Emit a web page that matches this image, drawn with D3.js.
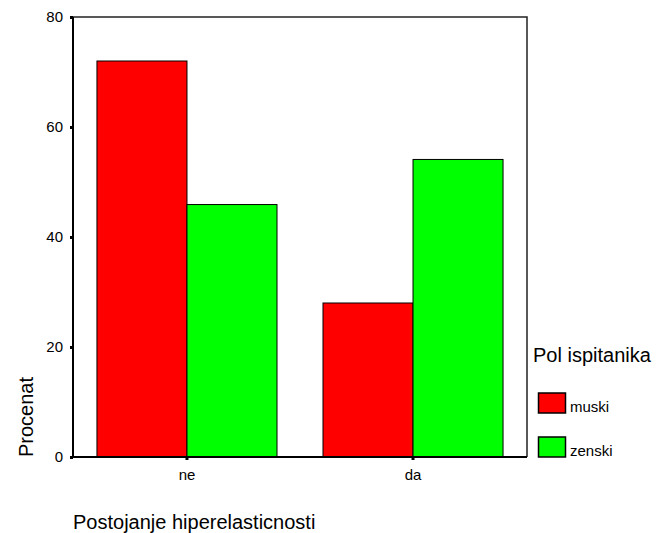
<!DOCTYPE html>
<html><head><meta charset="utf-8">
<script src="https://cdn.jsdelivr.net/npm/d3@7"></script>
<style>body{margin:0;background:#fff}svg{display:block;font-family:Arial,"Liberation Sans",Helvetica,sans-serif}</style>
</head><body>
<svg id="c" width="657" height="533"></svg>
<script>
const categories = ["ne", "da"];
const seriesNames = ["muski", "zenski"];
const muski = [72, 28];
const zenski = [45.9, 54.1];
const yTicks = [0, 20, 40, 60, 80];
const colors = ["#ff0000", "#00ff00"];

const svg = d3.select("#c");
const L = 73, R = 527, T = 17, B = 457;
const x = d3.scaleBand().domain(categories).range([L, R]).paddingInner(0.2035).paddingOuter(0.106);
const xs = d3.scaleBand().domain(seriesNames).range([0, x.bandwidth()]);
const y = d3.scaleLinear().domain([0, 80]).range([B, T]);

const data = categories.map((c, i) => ({cat: c, vals: [muski[i], zenski[i]]}));

// frame top/right
svg.append("path").attr("d", `M${L},${T}H${R}V${B}`).attr("fill", "none").attr("stroke", "#222").attr("stroke-width", 1.5);

// bars
const g = svg.append("g");
data.forEach(d => {
  seriesNames.forEach((s, j) => {
    g.append("rect")
      .attr("x", x(d.cat) + xs(s))
      .attr("y", y(d.vals[j]))
      .attr("width", xs.bandwidth())
      .attr("height", y(0) - y(d.vals[j]))
      .attr("fill", colors[j]).attr("stroke", "#000").attr("stroke-width", 1);
  });
});

const ff = "Arial, 'Liberation Sans', sans-serif";
// y axis
const yAxis = d3.axisLeft(y).tickValues(yTicks).tickSize(3).tickPadding(7);
const ya = svg.append("g").attr("transform", `translate(${L},0)`).call(yAxis);
ya.select(".domain").attr("stroke", "#000").attr("stroke-width", 2).attr("d", `M0,${T}V${B}`);
ya.selectAll(".tick line").attr("stroke", "#000").attr("stroke-width", 3);
ya.selectAll(".tick text").attr("font-size", 15).attr("fill", "#000").attr("font-family", ff);

// x axis
const xAxis = d3.axisBottom(x).tickSize(3).tickPadding(9);
const xa = svg.append("g").attr("transform", `translate(0,${B})`).call(xAxis);
xa.select(".domain").attr("stroke", "#000").attr("stroke-width", 2).attr("d", `M${L},0H${R}`);
xa.selectAll(".tick line").attr("stroke", "#000").attr("stroke-width", 3);
xa.selectAll(".tick text").attr("font-size", 15).attr("fill", "#000").attr("font-family", ff);

// axis titles
svg.append("text").attr("transform", "translate(33,417) rotate(-90)").attr("text-anchor", "middle")
  .attr("font-size", 20).attr("fill", "#000").text("Procenat");
svg.append("text").attr("x", 73).attr("y", 529).attr("font-size", 20).attr("fill", "#000").text("Postojanje hiperelasticnosti");

// legend
svg.append("text").attr("x", 533).attr("y", 362).attr("font-size", 20).attr("fill", "#000").text("Pol ispitanika");
seriesNames.forEach((s, j) => {
  const yy = 393 + j * 44;
  svg.append("rect").attr("x", 538.5).attr("y", yy).attr("width", 27).attr("height", 20)
    .attr("fill", colors[j]).attr("stroke", "#000").attr("stroke-width", 1.5);
  svg.append("text").attr("x", 570).attr("y", yy + 19).attr("font-size", 15).attr("fill", "#000").text(s);
});
</script>
</body></html>
